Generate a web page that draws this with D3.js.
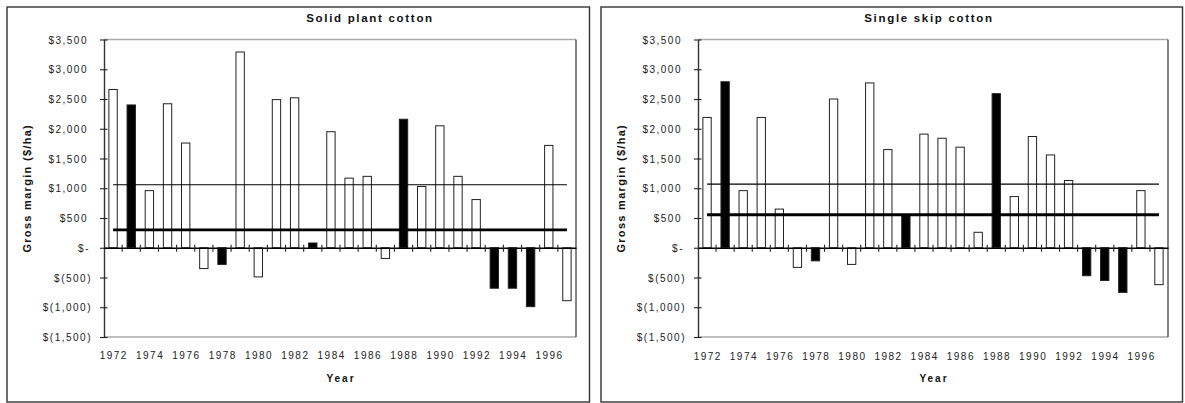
<!DOCTYPE html>
<html><head><meta charset="utf-8">
<script src="https://cdn.jsdelivr.net/npm/d3@7"></script>
<style>
html,body{margin:0;padding:0;background:#fff;}
svg{display:block;font-family:"Liberation Sans",Arial,sans-serif;}
</style></head>
<body>
<svg id="c" width="1185" height="403"></svg>
<script>
// ---- data ----
const years = [1972,1973,1974,1975,1976,1977,1978,1979,1980,1981,1982,1983,1984,1985,1986,1987,1988,1989,1990,1991,1992,1993,1994,1995,1996,1997];
const yearLabels = [1972,1974,1976,1978,1980,1982,1984,1986,1988,1990,1992,1994,1996];
const highlightYears = [1973,1978,1983,1988,1993,1994,1995];
const solidPlant = [2660,2400,960,2420,1760,-350,-280,3290,-490,2490,2520,80,1950,1170,1200,-180,2160,1030,2050,1200,810,-680,-680,-990,1720,-890];
const singleSkip = [2190,2790,960,2190,650,-330,-220,2500,-280,2770,1650,550,1910,1840,1690,260,2590,860,1870,1560,1130,-470,-550,-750,960,-620];
const panelTitles = ["Solid plant cotton","Single skip cotton"];
const meanAll = [1060,1070];
const meanHighlight = [300,555];
const yTicks = [3500,3000,2500,2000,1500,1000,500,0,-500,-1000,-1500];

// ---- layout ----
const panels = [
  {vals: solidPlant, bx0:7, bx1:589.5, px0:104, px1:576, titleX:370, yTitleX:31, ylab:358.5},
  {vals: singleSkip, bx0:601, bx1:1182.5, px0:698, px1:1168, titleX:929, yTitleX:625, ylab:359.5}
];
const plotTop = 39.5, plotBottom = 337;
const svg = d3.select("#c");

function fmt(v){
  if (v === 0) return "$-";
  const s = d3.format(",")(Math.abs(v));
  return v < 0 ? "$(" + s + ")" : "$" + s;
}

panels.forEach((p, i) => {
  const g = svg.append("g");
  g.append("rect").attr("x", p.bx0).attr("y", 7).attr("width", p.bx1 - p.bx0).attr("height", 395)
    .attr("fill", "#fff").attr("stroke", "#333").attr("stroke-width", 1.4);

  const x = d3.scaleBand().domain(years).range([p.px0, p.px1]).paddingInner(0.54).paddingOuter(0.27);
  const xc = d3.scaleBand().domain(years).range([p.px0, p.px1]).padding(0);
  const y = d3.scaleLinear().domain([-1500, 3500]).range([plotBottom, plotTop]);

  g.append("line").attr("x1", p.px0).attr("x2", p.px1).attr("y1", plotTop).attr("y2", plotTop).attr("stroke", "#aaa").attr("stroke-width", 1.3);
  g.append("line").attr("x1", p.px0).attr("x2", p.px1).attr("y1", plotBottom).attr("y2", plotBottom).attr("stroke", "#aaa").attr("stroke-width", 1.3);
  g.append("line").attr("x1", p.px1).attr("x2", p.px1).attr("y1", plotTop).attr("y2", plotBottom).attr("stroke", "#222").attr("stroke-width", 1.1);

  g.selectAll("rect.bar").data(years).join("rect").attr("class", "bar")
    .attr("x", d => x(d))
    .attr("width", x.bandwidth())
    .attr("y", (d, k) => y(Math.max(0, p.vals[k])))
    .attr("height", (d, k) => Math.abs(y(p.vals[k]) - y(0)))
    .attr("fill", d => highlightYears.includes(d) ? "#000" : "#fff")
    .attr("stroke", "#222").attr("stroke-width", 1);

  const cx = d => xc(d) + xc.bandwidth() / 2;
  const line = d3.line().x(d => cx(d[0])).y(d => y(d[1]));
  g.append("path").datum(years.map(d => [d, meanAll[i]])).attr("d", line)
    .attr("fill", "none").attr("stroke", "#000").attr("stroke-width", 1.1);
  g.append("path").datum(years.map(d => [d, meanHighlight[i]])).attr("d", line)
    .attr("fill", "none").attr("stroke", "#000").attr("stroke-width", 2.8);

  const ya = d3.axisLeft(y).tickValues(yTicks).tickSize(0).tickFormat("");
  const yg = g.append("g").attr("transform", `translate(${p.px0},0)`).call(ya);
  yg.select(".domain").attr("stroke", "#333").attr("stroke-width", 1.4);
  yg.selectAll(".tick").append("line").attr("x1", -4).attr("x2", 3.5).attr("stroke", "#222").attr("stroke-width", 1.1);
  yg.selectAll(".tick").append("text")
    .attr("x", d => d < 0 ? -12 : (d === 0 ? -14 : -16))
    .attr("dy", "0.35em").attr("text-anchor", "end")
    .attr("fill", "#222").style("font-size", "10px").style("letter-spacing", "1.5px")
    .text(d => fmt(d));

  const xa = d3.axisBottom(xc).tickSize(0).tickFormat("");
  const xg = g.append("g").attr("transform", `translate(0,${y(0)})`).call(xa);
  xg.select(".domain").attr("stroke", "#000").attr("stroke-width", 1.3);
  xg.selectAll(".tick").remove();
  const bounds = years.slice(1).map(d => xc(d));
  xg.selectAll("line.bt").data(bounds).join("line").attr("class", "bt")
    .attr("x1", d => d).attr("x2", d => d).attr("y1", -3).attr("y2", 4)
    .attr("stroke", "#222").attr("stroke-width", 1.1);

  g.selectAll("text.yl").data(yearLabels).join("text").attr("class", "yl")
    .attr("x", d => cx(d) + 0.75).attr("y", p.ylab).attr("text-anchor", "middle")
    .attr("fill", "#222").style("font-size", "10px").style("letter-spacing", "1.5px")
    .text(d => d);

  g.append("text").attr("x", p.titleX).attr("y", 21.5).attr("text-anchor", "middle")
    .style("font-size", "11.5px").style("font-weight", "bold").style("letter-spacing", "1.7px")
    .attr("fill", "#111").text(panelTitles[i]);
  g.append("text").attr("x", (p.px0 + p.px1) / 2 + 1).attr("y", 382).attr("text-anchor", "middle")
    .style("font-size", "10px").style("font-weight", "bold").style("letter-spacing", "2px")
    .attr("fill", "#111").text("Year");
  g.append("text").attr("transform", `translate(${p.yTitleX},${(plotTop + plotBottom) / 2}) rotate(-90)`)
    .attr("text-anchor", "middle")
    .style("font-size", "11px").style("font-weight", "bold").style("letter-spacing", "1.3px")
    .attr("fill", "#111").text("Gross margin ($/ha)");
});
</script>
</body></html>
